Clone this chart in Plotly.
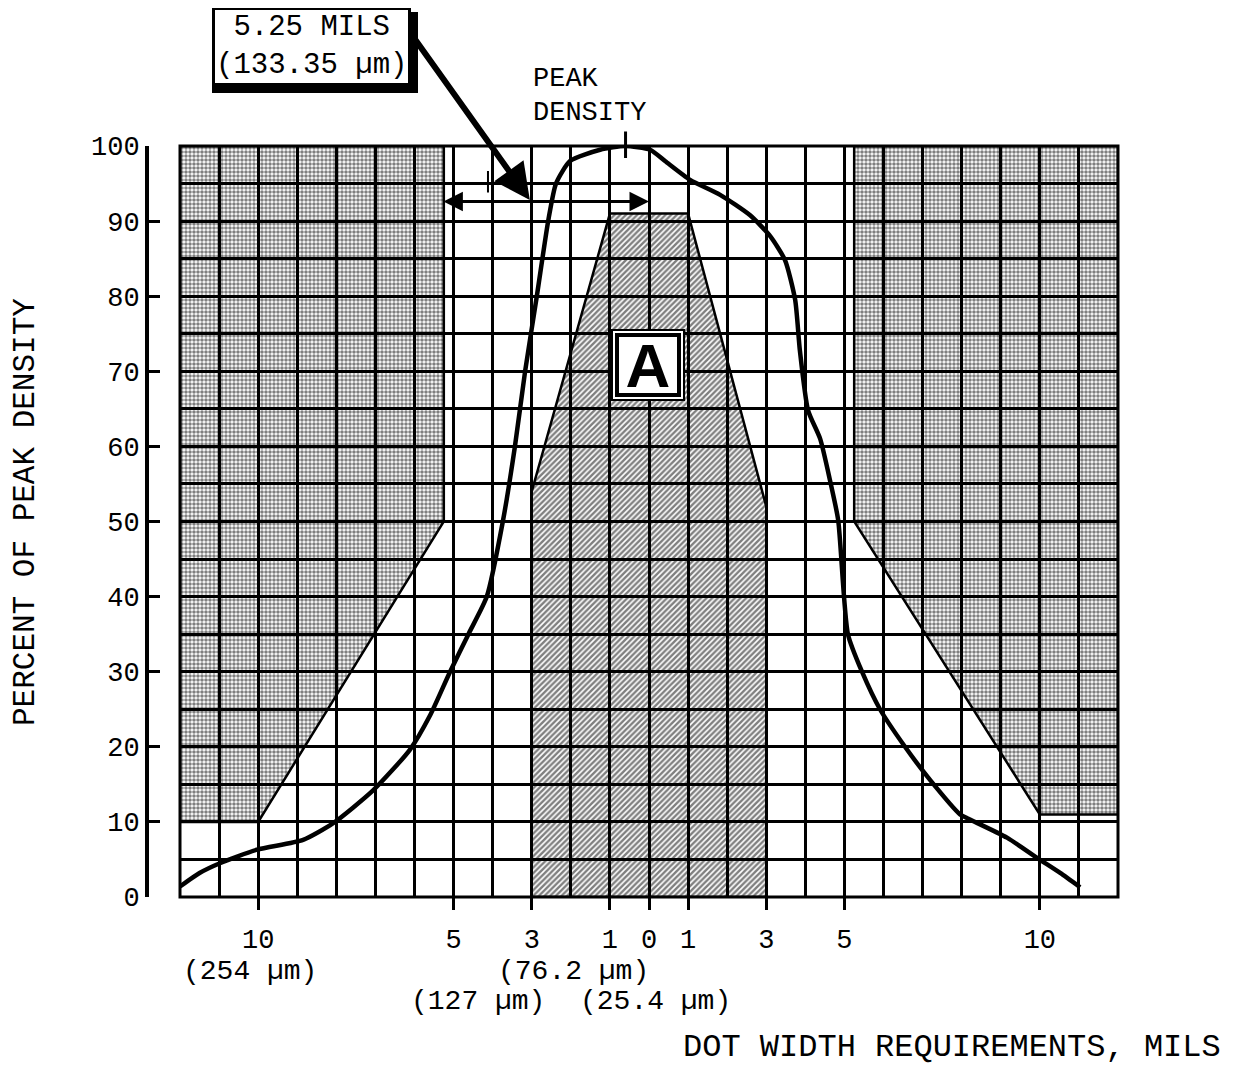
import plotly.graph_objects as go

# ---- data ----
curve_x = [-12.0, -11.5, -10.98, -10.03, -8.85, -8.09, -7.06, -6.12, -5.60, -5.09, -4.62, -4.15,
           -3.74, -3.43, -3.17, -2.87, -2.58, -2.38, -2.02, -1.25, -0.61, 0.03, 0.41, 1.05,
           1.82, 2.58, 3.10, 3.48, 3.74, 3.86, 4.07, 4.38, 4.63, 4.84, 5.09, 5.45, 5.91,
           6.55, 7.19, 7.96, 8.14, 9.16, 9.93, 10.52, 11.03]
curve_y = [1.4, 3.2, 4.5, 6.3, 7.6, 9.8, 14.2, 19.6, 24.2, 30.0, 35.0, 40.0,
           50.0, 60.0, 70.0, 80.0, 90.0, 95.0, 98.0, 99.5, 100.0, 99.5, 98.0, 95.5,
           93.5, 90.8, 88.0, 84.8, 79.5, 72.8, 64.8, 61.0, 55.5, 50.2, 35.0, 30.0, 25.0,
           20.0, 15.6, 11.0, 10.5, 7.9, 5.2, 3.2, 1.3]

left_zone_x = [-12, -5.25, -5.25, -10, -12, -12]
left_zone_y = [100, 100, 50, 10, 10, 100]
right_zone_x = [5.25, 12, 12, 10, 5.25, 5.25]
right_zone_y = [100, 100, 11, 11, 50, 100]
zone_a_x = [-3, -3, -1, 1, 3, 3, -3]
zone_a_y = [0, 54, 91, 91, 52, 0, 0]

x_tickvals = [-10, -5, -3, -1, 0, 1, 3, 5, 10]
x_ticktext = ["10", "5", "3", "1", "0", "1", "3", "5", "10"]
y_tickvals = [0, 10, 20, 30, 40, 50, 60, 70, 80, 90, 100]

FONT = "Liberation Mono"
W, H = 1229, 1061
ML, MR, MT, MB = 132, 119, 138, 172
PW = W - ML - MR          # 978
PH = H - MT - MB          # 751
PAGE_L = 140              # page pixel of paper x=0
PAGE_B = 897              # page pixel of paper y=0


def px(p):
    return (p - PAGE_L) / PW


def py(p):
    return (PAGE_B - p) / PH


fig = go.Figure()

dot_pattern = dict(shape=".", fgcolor="black", size=4, solidity=0.62)
fig.add_trace(go.Scatter(x=left_zone_x, y=left_zone_y, mode="lines", fill="toself",
                         fillcolor="rgba(0,0,0,0)", fillpattern=dot_pattern,
                         line=dict(color="black", width=2.5), hoverinfo="skip"))
fig.add_trace(go.Scatter(x=right_zone_x, y=right_zone_y, mode="lines", fill="toself",
                         fillcolor="rgba(0,0,0,0)", fillpattern=dot_pattern,
                         line=dict(color="black", width=2.5), hoverinfo="skip"))
fig.add_trace(go.Scatter(x=zone_a_x, y=zone_a_y, mode="lines", fill="toself",
                         fillcolor="rgba(0,0,0,0)",
                         fillpattern=dict(shape="/", fgcolor="black", size=4, solidity=0.6),
                         line=dict(color="black", width=2.5), hoverinfo="skip"))
fig.add_trace(go.Scatter(x=curve_x, y=curve_y, mode="lines",
                         line=dict(color="black", width=4.5, shape="spline", smoothing=0.6),
                         hoverinfo="skip"))

# plot frame
fig.add_shape(type="rect", xref="x domain", yref="y domain", x0=0, x1=1, y0=0, y1=1,
              line=dict(color="black", width=3), layer="above")
# drop shadow of the dimension callout box
fig.add_shape(type="rect", xref="paper", yref="paper", x0=px(212), x1=px(418),
              y0=py(93), y1=py(12), fillcolor="black", line=dict(width=0))

ann = []
# 5.25 MILS box
ann.append(dict(xref="paper", yref="paper", x=px(311), y=py(46), xanchor="center",
                yanchor="middle", text="5.25 MILS<br>(133.35 µm)", showarrow=False,
                font=dict(family=FONT, size=29, color="black"),
                bgcolor="white", bordercolor="black", borderwidth=3, borderpad=1))
# thick arrow to the dimension line
ann.append(dict(xref="x", yref="y", x=-3.05, y=92.8, ax=-120, ay=-168, text="",
                showarrow=True, arrowhead=2, arrowsize=1.2, arrowwidth=6, arrowcolor="black"))
# dimension line with double arrow
ann.append(dict(xref="x", yref="y", x=0.0, y=92.6, axref="x", ayref="y", ax=-5.3, ay=92.6,
                text="", showarrow=True, arrowside="end+start", arrowhead=2, startarrowhead=2,
                arrowsize=1.3, startarrowsize=1.3, arrowwidth=3, arrowcolor="black"))
# small dimension tick
ann.append(dict(xref="x", yref="y", x=-4.12, y=93.8, ax=0, ay=-23, text="",
                showarrow=True, arrowhead=0, arrowwidth=2, arrowcolor="black"))
# peak density tick
ann.append(dict(xref="x", yref="y", x=-0.6, y=98.4, ax=0, ay=-28, text="",
                showarrow=True, arrowhead=0, arrowwidth=3, arrowcolor="black"))
ann.append(dict(xref="paper", yref="paper", x=px(531), y=py(79), xanchor="left",
                yanchor="middle", text="PEAK", showarrow=False,
                font=dict(family=FONT, size=27, color="black")))
ann.append(dict(xref="paper", yref="paper", x=px(531), y=py(113), xanchor="left",
                yanchor="middle", text="DENSITY", showarrow=False,
                font=dict(family=FONT, size=27, color="black")))
# "A" label (double frame)
ann.append(dict(xref="x", yref="y", x=-0.03, y=70.8, text="<b>A</b>", showarrow=False,
                font=dict(family="Liberation Sans", size=62, color="black"),
                width=70, height=68, borderpad=0,
                bgcolor="white", bordercolor="black", borderwidth=2))
ann.append(dict(xref="x", yref="y", x=-0.03, y=70.8, text="<b>A</b>", showarrow=False,
                font=dict(family="Liberation Sans", size=62, color="black"),
                width=58, height=56, borderpad=0,
                bgcolor="white", bordercolor="black", borderwidth=4))
# micrometre sub-labels
ann.append(dict(xref="paper", yref="paper", x=px(250), y=py(971), xanchor="center",
                yanchor="middle", text="(254 µm)", showarrow=False,
                font=dict(family=FONT, size=28, color="black")))
ann.append(dict(xref="paper", yref="paper", x=px(573), y=py(971), xanchor="center",
                yanchor="middle", text="(76.2 µm)", showarrow=False,
                font=dict(family=FONT, size=28, color="black")))
ann.append(dict(xref="paper", yref="paper", x=px(478), y=py(1002), xanchor="center",
                yanchor="middle", text="(127 µm)", showarrow=False,
                font=dict(family=FONT, size=28, color="black")))
ann.append(dict(xref="paper", yref="paper", x=px(655), y=py(1002), xanchor="center",
                yanchor="middle", text="(25.4 µm)", showarrow=False,
                font=dict(family=FONT, size=28, color="black")))
# axis titles
ann.append(dict(xref="paper", yref="paper", x=px(1223), y=py(1047),
                xanchor="right", yanchor="middle", text="DOT WIDTH REQUIREMENTS, MILS",
                showarrow=False, font=dict(family=FONT, size=32, color="black")))
ann.append(dict(xref="paper", yref="paper", x=px(25), y=py(512),
                xanchor="center", yanchor="middle", textangle=-90,
                text="PERCENT OF PEAK DENSITY", showarrow=False,
                font=dict(family=FONT, size=31, color="black")))

fig.update_layout(
    width=W, height=H,
    margin=dict(l=ML, r=MR, t=MT, b=MB),
    paper_bgcolor="white", plot_bgcolor="white",
    showlegend=False,
    annotations=ann,
    font=dict(family=FONT, color="black"),
    xaxis=dict(range=[-12, 12], domain=[px(180), 1], tickmode="array",
               tickvals=x_tickvals, ticktext=x_ticktext, ticks="outside", ticklen=12,
               tickwidth=3, tickcolor="black", ticklabelstandoff=6,
               showgrid=True, gridcolor="black", gridwidth=2.5,
               zeroline=False, showline=False,
               tickfont=dict(family=FONT, size=27, color="black"),
               minor=dict(tickmode="linear", tick0=0, dtick=1, showgrid=True,
                          gridcolor="black", gridwidth=2.5, ticks="")),
    yaxis=dict(range=[0, 100], anchor="free", position=px(147), tickmode="array",
               tickvals=y_tickvals, ticks="inside", ticklen=11, tickwidth=3, tickcolor="black",
               showline=True, linecolor="black", linewidth=4, showgrid=True,
               gridcolor="black", gridwidth=2.5, zeroline=False,
               tickfont=dict(family=FONT, size=27, color="black"),
               minor=dict(tickmode="linear", tick0=0, dtick=5, showgrid=True,
                          gridcolor="black", gridwidth=2.5, ticks="")),
)

fig.write_html("out.html")
